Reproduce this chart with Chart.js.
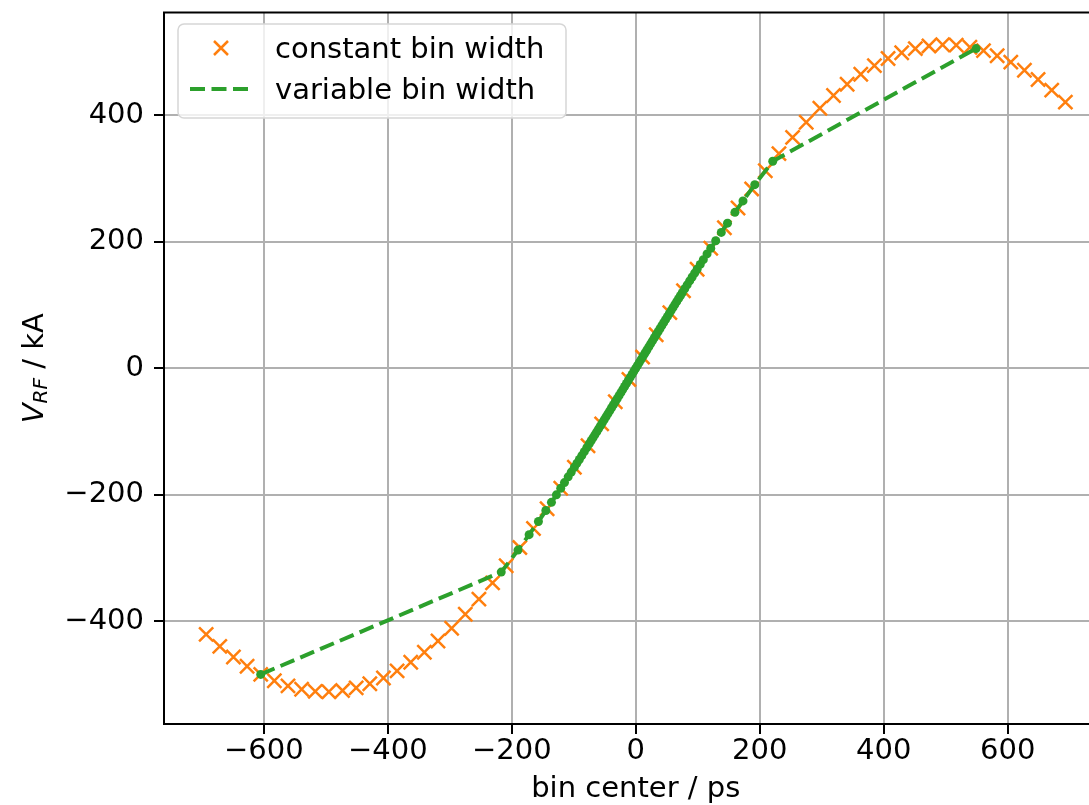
<!DOCTYPE html>
<html>
<head>
<meta charset="utf-8">
<script src="https://cdn.jsdelivr.net/npm/chart.js@4.4.1/dist/chart.umd.min.js"></script>
<style>
  html, body { margin: 0; padding: 0; background: #fff; overflow: hidden; }
  #wrap { width: 1120px; height: 805px; }
</style>
</head>
<body>
<div id="wrap"><canvas id="chart" width="1120" height="805"></canvas></div>
<script>
// constant bin width: bin centers (ps) and voltage (kA)
const constantBinX = [
  -693, -671, -649, -627, -605, -583, -561, -539, -517, -495, -473, -451, -429, -407, -385, -363,
  -341, -319, -297, -275, -253, -231, -209, -187, -165, -143, -121, -99, -77, -55, -33, -11,
  11, 33, 55, 77, 99, 121, 143, 165, 187, 209, 231, 253, 275, 297, 319, 341,
  363, 385, 407, 429, 451, 473, 495, 517, 539, 561, 583, 605, 627, 649, 671, 693
];
const constantBinV = [
  -421.1, -440.1, -457.0, -471.7, -484.4, -494.6, -502.6, -508.1, -511.3, -511.9, -510.1, -505.9, -499.3, -490.3, -478.9, -465.3,
  -449.4, -431.6, -411.4, -389.3, -365.4, -339.7, -312.5, -283.8, -253.7, -222.4, -190.0, -156.7, -122.6, -88.0, -53.0, -17.7,
  17.7, 53.0, 88.0, 122.6, 156.7, 190.0, 222.4, 253.7, 283.8, 312.5, 339.7, 365.4, 389.3, 411.4, 431.6, 449.4,
  465.3, 478.9, 490.3, 499.3, 505.9, 510.1, 511.9, 511.3, 508.1, 502.6, 494.6, 484.4, 471.7, 457.0, 440.1, 421.1
];

// variable bin width
const variableBinX = [
  -605, -217, -190, -172, -157, -145, -136, -128, -121, -115,
  -109, -104, -99, -95, -91, -87, -83, -79, -75, -72,
  -69, -66, -63, -60, -57, -54, -51, -48, -45, -42,
  -39, -36, -33, -30, -27, -24, -21, -18, -15, -12,
  -9, -6, -3, 0, 3, 6, 9, 12, 15, 18,
  21, 24, 27, 30, 33, 36, 39, 42, 45, 48,
  51, 54, 57, 60, 63, 66, 69, 72, 75, 79,
  83, 87, 91, 95, 99, 104, 109, 115, 121, 129,
  138, 148, 160, 173, 192, 221, 549
];
const variableBinV = [
  -484.5, -322.6, -287.8, -263.4, -242.5, -225.2, -212.2, -200.3, -189.9, -181.0,
  -171.9, -164.3, -156.7, -150.5, -144.4, -138.2, -132.0, -125.8, -119.5, -114.8,
  -110.1, -105.4, -100.7, -95.9, -91.2, -86.4, -81.7, -76.9, -72.1, -67.4,
  -62.6, -57.8, -53.0, -48.2, -43.4, -38.6, -33.8, -28.9, -24.1, -19.3,
  -14.5, -9.7, -4.8, 0, 4.8, 9.7, 14.5, 19.3, 24.1, 28.9,
  33.8, 38.6, 43.4, 48.2, 53.0, 57.8, 62.6, 67.4, 72.1, 76.9,
  81.7, 86.4, 91.2, 95.9, 100.7, 105.4, 110.1, 114.8, 119.5, 125.8,
  132.0, 138.2, 144.4, 150.5, 156.7, 164.3, 171.9, 181.0, 189.9, 201.8,
  215.0, 229.6, 246.7, 264.8, 290.5, 327.6, 505.9
];

const xTicks = [-600, -400, -200, 0, 200, 400, 600];
const yTicks = [-400, -200, 0, 200, 400];

const ORANGE = '#ff7f0e';
const GREEN = '#2ca02c';
const FONT = 'DejaVu Sans';

const fmt = v => (v < 0 ? '\u2212' + Math.abs(v) : String(v));

// frame, axis titles and the matplotlib-like legend
const extras = {
  id: 'extras',
  afterDraw(chart) {
    const ctx = chart.ctx;
    const a = chart.chartArea;
    ctx.save();

    // top/right spines
    ctx.strokeStyle = '#000';
    ctx.lineWidth = 2;
    ctx.strokeRect(a.left, a.top, a.right - a.left, a.bottom - a.top);

    ctx.fillStyle = '#000';
    // x title
    ctx.font = '29px "' + FONT + '"';
    ctx.textAlign = 'center';
    ctx.textBaseline = 'alphabetic';
    ctx.fillText('bin center / ps', (a.left + a.right) / 2, 797);

    // y title: V_RF / kA
    ctx.save();
    ctx.translate(43, (a.top + a.bottom) / 2);
    ctx.rotate(-Math.PI / 2);
    ctx.textAlign = 'left';
    const fV = 'italic 29px "' + FONT + '"';
    const fSub = 'italic 20px "' + FONT + '"';
    const fRest = '29px "' + FONT + '"';
    ctx.font = fV; const wV = ctx.measureText('V').width;
    ctx.font = fSub; const wS = ctx.measureText('RF').width;
    ctx.font = fRest; const wR = ctx.measureText(' / kA').width;
    let x0 = -(wV + wS + wR) / 2;
    ctx.font = fV; ctx.fillText('V', x0, 0); x0 += wV;
    ctx.font = fSub; ctx.fillText('RF', x0, 4); x0 += wS;
    ctx.font = fRest; ctx.fillText(' / kA', x0, 0);
    ctx.restore();

    // legend box
    const bx = 178, by = 24, bw = 388, bh = 94, r = 6;
    ctx.beginPath();
    ctx.moveTo(bx + r, by);
    ctx.arcTo(bx + bw, by, bx + bw, by + bh, r);
    ctx.arcTo(bx + bw, by + bh, bx, by + bh, r);
    ctx.arcTo(bx, by + bh, bx, by, r);
    ctx.arcTo(bx, by, bx + bw, by, r);
    ctx.closePath();
    ctx.fillStyle = 'rgba(255,255,255,0.8)';
    ctx.fill();
    ctx.strokeStyle = '#d6d6d6';
    ctx.lineWidth = 1.5;
    ctx.stroke();

    // orange cross
    const cx = 221, cy = 48, d = 7;
    ctx.strokeStyle = ORANGE;
    ctx.lineWidth = 2.5;
    ctx.beginPath();
    ctx.moveTo(cx - d, cy - d); ctx.lineTo(cx + d, cy + d);
    ctx.moveTo(cx - d, cy + d); ctx.lineTo(cx + d, cy - d);
    ctx.stroke();

    // green dashed
    ctx.strokeStyle = GREEN;
    ctx.lineWidth = 4;
    ctx.setLineDash([15, 6.5]);
    ctx.beginPath();
    ctx.moveTo(190, 89); ctx.lineTo(250, 89);
    ctx.stroke();
    ctx.setLineDash([]);

    ctx.fillStyle = '#000';
    ctx.font = '29px "' + FONT + '"';
    ctx.textAlign = 'left';
    ctx.fillText('constant bin width', 275, 58);
    ctx.fillText('variable bin width', 275, 99);

    ctx.restore();
  }
};

new Chart(document.getElementById('chart'), {
  type: 'scatter',
  data: {
    datasets: [
      {
        label: 'constant bin width',
        data: constantBinX.map((x, i) => ({ x: x, y: constantBinV[i] })),
        showLine: false,
        pointStyle: 'crossRot',
        pointRadius: 10,
        pointBorderWidth: 2.5,
        borderColor: ORANGE,
        backgroundColor: ORANGE,
        order: 1
      },
      {
        label: 'variable bin width',
        data: variableBinX.map((x, i) => ({ x: x, y: variableBinV[i] })),
        showLine: true,
        borderColor: GREEN,
        borderWidth: 4,
        borderDash: [15, 6.5],
        pointStyle: 'circle',
        pointRadius: 4.5,
        pointBorderWidth: 0,
        pointBackgroundColor: GREEN,
        order: 0
      }
    ]
  },
  options: {
    responsive: false,
    animation: false,
    devicePixelRatio: 1,
    layout: { padding: { left: 0, right: 11, top: 11, bottom: 0 } },
    plugins: {
      legend: { display: false },
      tooltip: { enabled: false }
    },
    scales: {
      x: {
        type: 'linear',
        min: -761,
        max: 761,
        afterBuildTicks: scale => { scale.ticks = xTicks.map(v => ({ value: v })); },
        afterFit: scale => {
          scale.height = 81;
          scale.paddingLeft = 0;
          scale.paddingRight = 0;
        },
        grid: { color: '#b0b0b0', lineWidth: 2, tickLength: 10, tickColor: '#000', tickWidth: 2 },
        border: { color: '#000', width: 2 },
        ticks: {
          font: { family: FONT, size: 29 },
          color: '#000',
          padding: 0,
          maxRotation: 0,
          callback: v => fmt(v)
        }
      },
      y: {
        type: 'linear',
        min: -563,
        max: 563,
        afterBuildTicks: scale => { scale.ticks = yTicks.map(v => ({ value: v })); },
        afterFit: scale => {
          scale.width = 164;
          scale.paddingTop = 0;
          scale.paddingBottom = 0;
        },
        grid: { color: '#b0b0b0', lineWidth: 2, tickLength: 10, tickColor: '#000', tickWidth: 2 },
        border: { color: '#000', width: 2 },
        ticks: {
          font: { family: FONT, size: 29 },
          color: '#000',
          padding: 10,
          callback: v => fmt(v)
        }
      }
    }
  },
  plugins: [extras]
});
</script>
</body>
</html>
